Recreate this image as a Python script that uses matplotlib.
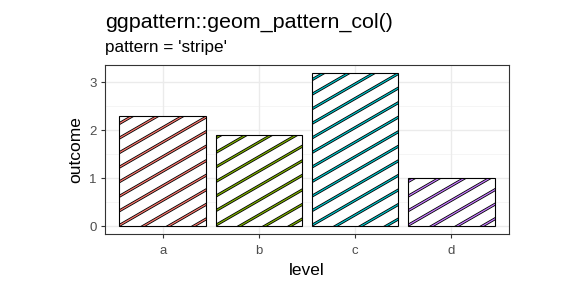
import numpy as np
import matplotlib
matplotlib.use('Agg')
import matplotlib.pyplot as plt
from matplotlib.patches import Rectangle

# data
levels = ['a', 'b', 'c', 'd']
outcome = [2.3, 1.9, 3.2, 1.0]
stripe_colors = ['#F8766D', '#7CAE00', '#00BFC4', '#C77CFF']

plt.rcParams['font.family'] = ['Liberation Sans', 'DejaVu Sans']

fig = plt.figure(figsize=(5.76, 2.88), dpi=100)
ax = fig.add_axes([105 / 576, 54 / 288, 404 / 576, 169 / 288])

x = np.arange(1, len(levels) + 1)
ax.set_xlim(0.4, 4.6)
ax.set_ylim(-0.16, 3.36)

# grid like theme_bw
for v in [0.5, 1.5, 2.5]:
    ax.axhline(v, color='#F2F2F2', lw=0.5, zorder=0)
for v in [0, 1, 2, 3]:
    ax.axhline(v, color='#EBEBEB', lw=1.0, zorder=0)
for v in x:
    ax.axvline(v, color='#EBEBEB', lw=1.0, zorder=0)

# slope of a 30 degree stripe in data units
fig.canvas.draw()
px_x = ax.transData.transform((1, 0))[0] - ax.transData.transform((0, 0))[0]
px_y = ax.transData.transform((0, 1))[1] - ax.transData.transform((0, 0))[1]
ang = np.deg2rad(30)
slope = np.tan(ang) * px_x / px_y
spacing_px = 12.6
dy_step = spacing_px / np.cos(ang) / px_y  # vertical step between stripes

w = 0.9
for xi, h, col in zip(x, outcome, stripe_colors):
    x0 = xi - w / 2
    bar = Rectangle((x0, 0), w, h, facecolor='white', edgecolor='none', zorder=2)
    ax.add_patch(bar)
    # stripes: y = y0 + slope * (x - x0)
    y_lo = -slope * w - dy_step
    ks = np.arange(np.floor(y_lo / dy_step), np.ceil(h / dy_step) + 1)
    xs = np.array([x0 - 0.05, x0 + w + 0.05])
    for k in ks:
        y0 = k * dy_step + 0.02
        ys = y0 + slope * (xs - x0)
        l1, = ax.plot(xs, ys, color='black', lw=2.1, solid_capstyle='butt', zorder=3)
        l2, = ax.plot(xs, ys, color=col, lw=0.9, solid_capstyle='butt', zorder=4)
        l1.set_clip_path(bar)
        l2.set_clip_path(bar)
    ax.add_patch(Rectangle((x0, 0), w, h, facecolor='none', edgecolor='black',
                           lw=0.8, zorder=5))

ax.set_xticks(x)
ax.set_xticklabels(levels)
ax.set_yticks([0, 1, 2, 3])
ax.tick_params(axis='both', length=3, width=0.8, color='#333333',
               labelcolor='#4D4D4D', labelsize=9.5, pad=3)
ax.tick_params(axis='x', pad=5)
for s in ax.spines.values():
    s.set_color('#333333')
    s.set_linewidth(0.8)

ax.set_xlabel('level', fontsize=12.5, labelpad=4)
ax.set_ylabel('outcome', fontsize=12.5, labelpad=4)

fig.text(105 / 576, 1 - 28 / 288, 'ggpattern::geom_pattern_col()', fontsize=15.4,
         ha='left', va='baseline')
fig.text(105 / 576, 1 - 52 / 288, "pattern = 'stripe'", fontsize=12.3,
         ha='left', va='baseline')

fig.savefig('out.png', dpi=100)
